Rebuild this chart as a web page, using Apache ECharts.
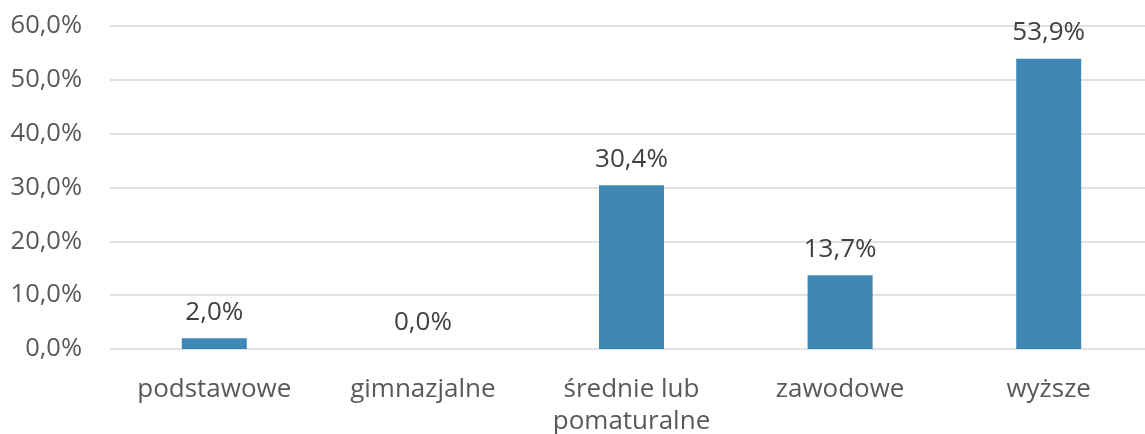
<!DOCTYPE html>
<html>
<head>
<meta charset="utf-8">
<script src="https://cdn.jsdelivr.net/npm/echarts@6/dist/echarts.min.js"></script>
<style>
  html, body { margin: 0; padding: 0; background: #fff; }
  #chart { width: 1145px; height: 434px; }
</style>
</head>
<body>
<div id="chart"></div>
<script>
// kategorie wykształcenia
const categories = ['podstawowe', 'gimnazjalne', 'średnie lub\npomaturalne', 'zawodowe', 'wyższe'];
// udział w procentach
const shares = [2.0, 0.0, 30.4, 13.7, 53.9];
// ticki osi Y
const yMin = 0;
const yMax = 60;
const yStep = 10;

const fmt = v => v.toFixed(1).replace('.', ',') + '%';

const chart = echarts.init(document.getElementById('chart'), null, { renderer: 'canvas' });
chart.setOption({
    animation: false,
    textStyle: { fontFamily: 'Open Sans' },
    grid: { left: 110, width: 1043, top: 26, height: 323, outerBoundsMode: 'none', containLabel: false },
    xAxis: {
        type: 'category',
        data: categories,
        axisLine: { show: false },
        axisTick: { show: false },
        axisLabel: {
            color: '#595959',
            fontSize: 26,
            margin: 25,
            lineHeight: 32,
            interval: 0
        }
    },
    yAxis: {
        type: 'value',
        min: yMin,
        max: yMax,
        interval: yStep,
        axisLine: { show: false },
        axisTick: { show: false },
        splitLine: { lineStyle: { color: '#d9d9d9', width: 1.5 } },
        axisLabel: {
            color: '#595959',
            fontSize: 25.5,
            margin: 28,
            formatter: v => fmt(v)
        }
    },
    series: [{
        type: 'bar',
        data: shares,
        barWidth: 65,
        itemStyle: { color: '#3f87b4' },
        label: {
            show: true,
            position: 'top',
            distance: 13,
            color: '#404040',
            fontSize: 26,
            formatter: p => fmt(p.value)
        }
    }]
});
</script>
</body>
</html>
